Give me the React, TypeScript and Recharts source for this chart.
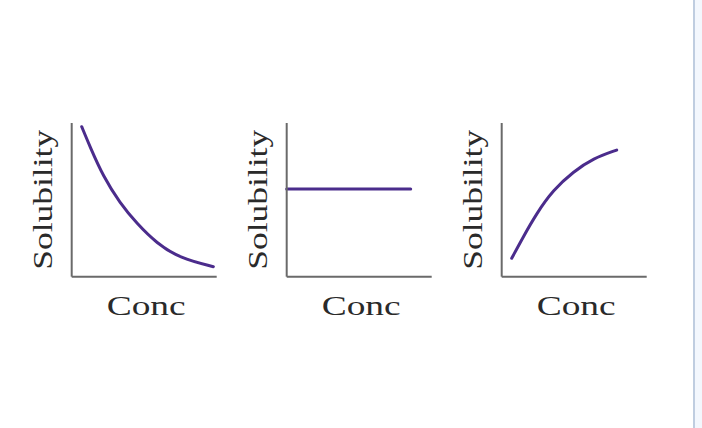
import React from "react";
import { LineChart, Line, XAxis, YAxis, Label } from "recharts";

// Panel 1: solubility decreases with concentration
const concDecrease = [0.69, 1.26, 2.18, 3.33, 4.48, 5.86, 7.47, 9.77];
const solDecrease = [9.76, 8.46, 6.51, 4.78, 3.47, 2.17, 1.2, 0.65];
// Panel 2: solubility unchanged
const concFlat = [0, 8.55];
const solFlat = [5.7, 5.7];
// Panel 3: solubility increases with concentration
const concIncrease = [0.69, 1.49, 2.41, 3.55, 4.94, 6.32, 7.93];
const solIncrease = [1.2, 2.6, 4.12, 5.64, 6.83, 7.7, 8.24];

const xLabel = "Conc";
const yLabel = "Solubility";

const toRows = (xs: number[], ys: number[]) => xs.map((x, i) => ({ x, y: ys[i] }));

const PURPLE = "#4b2c8c";
const AXIS = "#6a6a6a";
const TEXT = "#2a2a2a";
const FONT = "'Liberation Serif', 'Times New Roman', serif";

const XLab = (props: any) => {
  const vb = props.viewBox || {};
  const cx = vb.x + vb.width / 2 + 2;
  return (
    <text
      x={cx}
      y={vb.y + 38}
      textAnchor="middle"
      fontFamily={FONT}
      fontSize={27}
      fill={TEXT}
      textLength={79}
      lengthAdjust="spacingAndGlyphs"
    >
      {xLabel}
    </text>
  );
};

const YLab = (props: any) => {
  const vb = props.viewBox || {};
  const x = vb.x + vb.width - 20;
  const y = vb.y + vb.height / 2;
  return (
    <text
      x={x}
      y={y}
      transform={`rotate(-90, ${x}, ${y})`}
      textAnchor="middle"
      fontFamily={FONT}
      fontSize={27}
      fill={TEXT}
      textLength={140}
      lengthAdjust="spacingAndGlyphs"
    >
      {yLabel}
    </text>
  );
};

const Panel = ({ left, data }: { left: number; data: { x: number; y: number }[] }) => (
  <div style={{ position: "absolute", left, top: 0 }}>
    <LineChart
      width={230}
      height={340}
      data={data}
      margin={{ top: 123, left: 61.7, right: 13.3, bottom: 53.3 }}
    >
      <XAxis
        dataKey="x"
        type="number"
        domain={[0, 10]}
        tick={false}
        tickLine={false}
        height={10}
        axisLine={{ stroke: AXIS, strokeWidth: 2 }}
      >
        <Label content={<XLab />} />
      </XAxis>
      <YAxis
        dataKey="y"
        type="number"
        domain={[0, 10]}
        tick={false}
        tickLine={false}
        width={10}
        axisLine={{ stroke: AXIS, strokeWidth: 2 }}
      >
        <Label content={<YLab />} />
      </YAxis>
      <Line
        dataKey="y"
        type="basis"
        stroke={PURPLE}
        strokeWidth={3}
        strokeLinecap="round"
        dot={false}
        isAnimationActive={false}
      />
    </LineChart>
  </div>
);

export default function App() {
  return (
    <div style={{ position: "absolute", left: 0, top: 0, width: 702, height: 428, background: "#ffffff", overflow: "hidden" }}>
      <Panel left={0} data={toRows(concDecrease, solDecrease)} />
      <Panel left={215} data={toRows(concFlat, solFlat)} />
      <Panel left={430} data={toRows(concIncrease, solIncrease)} />
      <div style={{ position: "absolute", left: 693, top: 0, width: 2, height: 428, background: "#bfcde0" }} />
      <div style={{ position: "absolute", left: 695, top: 0, width: 7, height: 428, background: "#f3f7fd" }} />
    </div>
  );
}
